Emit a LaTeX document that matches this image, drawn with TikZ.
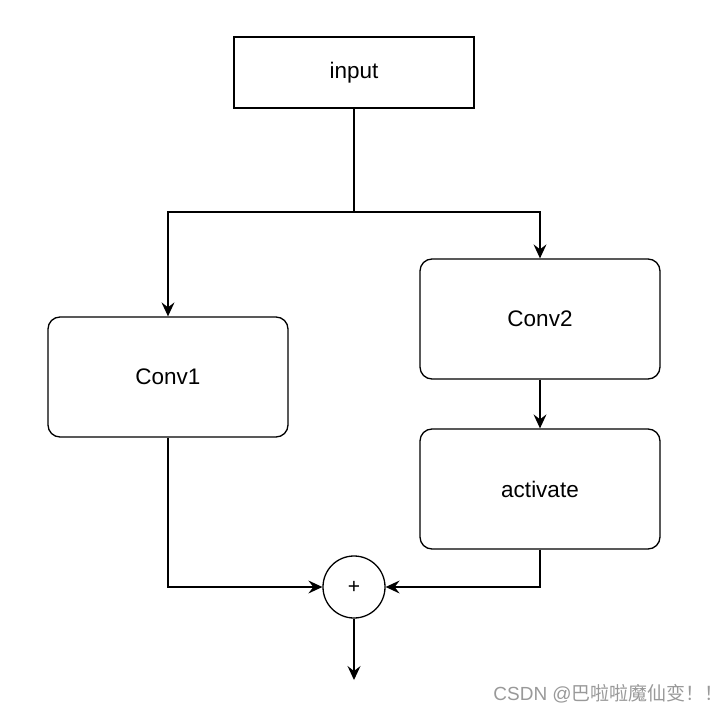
\documentclass[tikz,border=0pt]{standalone}
\usepackage{fontspec}
\setmainfont{Liberation Sans}
\newfontfamily\cjk{Noto Sans CJK SC}
\usetikzlibrary{arrows.meta}
\begin{document}
\begin{tikzpicture}[x=1pt,y=-1pt,
  box/.style={draw,line width=1.3pt,minimum width=240pt,minimum height=120pt,rounded corners=12pt,inner sep=0pt,font=\fontsize{22.5pt}{25pt}\selectfont},
  conn/.style={draw,line width=1.3pt,-{Stealth[length=14pt,width=13pt,inset=5pt]}}
]
\useasboundingbox (0,0) rectangle (728,714);
\node[box,rounded corners=0pt,minimum height=71pt] (input) at (354,72.5) {input};
\node[box] (conv1) at (168,377) {Conv1};
\node[box] (conv2) at (540,319) {Conv2};
\node[box] (act) at (540,489) {activate};
\node[draw,circle,line width=1.3pt,minimum size=62pt,inner sep=0pt,font=\fontsize{21pt}{24pt}\selectfont] (plus) at (354,587) {+};
\coordinate (split) at (354,212);
\coordinate (out) at (354,680);
\draw[line width=1.3pt] (input.south) -- (split);
\draw[conn] (split) -| (conv1.north);
\draw[conn] (split) -| (conv2.north);
\draw[conn] (conv2.south) -- (act.north);
\draw[conn] (conv1.south) |- (plus.west);
\draw[conn] (act.south) |- (plus.east);
\draw[conn] (plus.south) -- (out);
\node[anchor=east,text=gray!80,inner sep=0pt,font=\fontsize{19pt}{21pt}\selectfont] (wm) at (724,694) {CSDN @{\cjk 巴啦啦魔仙变！！}};
\end{tikzpicture}
\end{document}
